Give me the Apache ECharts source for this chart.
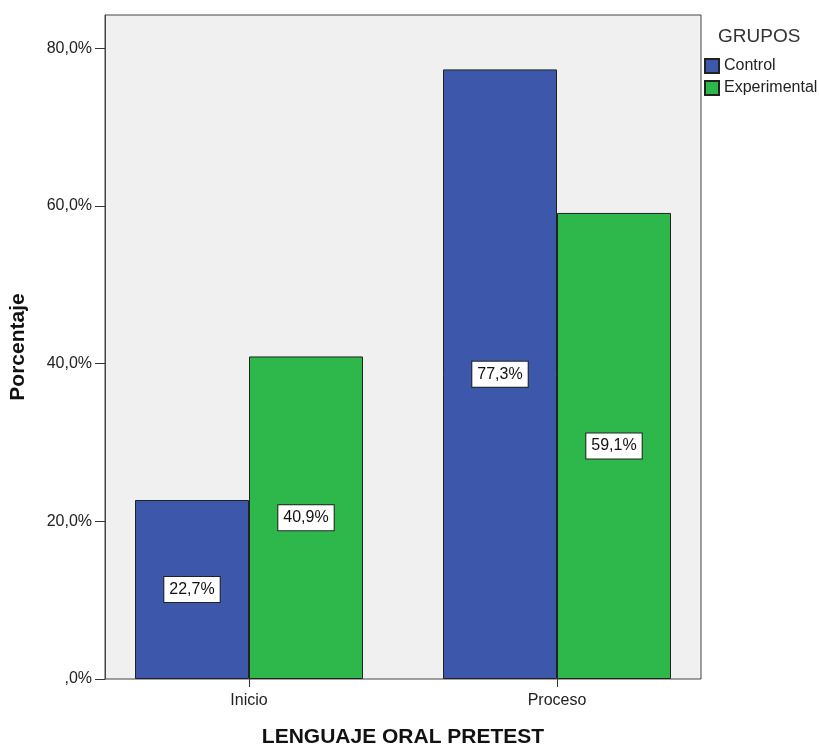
<!DOCTYPE html>
<html>
<head>
<meta charset="utf-8">
<script src="https://cdn.jsdelivr.net/npm/echarts@6/dist/echarts.min.js"></script>
<style>html,body{margin:0;padding:0;background:#fff}#c{width:819px;height:746px}</style>
</head>
<body>
<div id="c"></div>
<script>
var categories = ['Inicio', 'Proceso'];
var controlValues = [22.7, 77.3];
var experimentalValues = [40.9, 59.1];
var yTickValues = [0, 20, 40, 60, 80];
var seriesNames = ['Control', 'Experimental'];
var legendTitle = 'GRUPOS';
var xTitle = 'LENGUAJE ORAL PRETEST';
var yTitle = 'Porcentaje';

function pct(v) {
  if (v === 0) return ',0%';
  return v.toFixed(1).replace('.', ',') + '%';
}
var FONT = '"Liberation Sans", Arial, sans-serif';
var labelCfg = {
  show: true, position: 'inside', formatter: function (p) { return pct(p.value); },
  backgroundColor: '#ffffff', borderColor: '#222', borderWidth: 1,
  padding: [5, 5, 4, 5], fontSize: 16, color: '#111', fontFamily: FONT
};
var chart = echarts.init(document.getElementById('c'), null, { renderer: 'canvas' });
chart.setOption({
  animation: false,
  backgroundColor: '#ffffff',
  textStyle: { fontFamily: FONT },
  title: { text: legendTitle, left: 713, top: 22, textStyle: { fontSize: 19, fontWeight: 'normal', color: '#333', fontFamily: FONT } },
  legend: {
    orient: 'vertical', left: 704, top: 58, padding: 0, itemWidth: 14, itemHeight: 14, itemGap: 6,
    icon: 'rect', data: seriesNames,
    textStyle: { fontSize: 16, color: '#222', fontFamily: FONT, overflow: 'none' }
  },
  grid: [
    { left: 95, top: 15, width: 616, height: 664, show: false, outerBoundsMode: 'none', containLabel: false },
    { left: 105, top: 15, width: 596, height: 664, show: true, backgroundColor: '#f0f0f0', borderColor: '#444', borderWidth: 1, z: 0, outerBoundsMode: 'none', containLabel: false }
  ],
  xAxis: [
    {
      gridIndex: 0, type: 'category', data: categories,
      axisLine: { show: false },
      axisTick: { show: true, alignWithLabel: true, length: 8, lineStyle: { color: '#333' } },
      axisLabel: { fontSize: 16, color: '#222', margin: 14, fontFamily: FONT },
      name: xTitle, nameLocation: 'middle', nameGap: 48,
      nameTextStyle: { fontSize: 21, fontWeight: 'bold', color: '#111', fontFamily: FONT }
    },
    { gridIndex: 1, type: 'value', show: false }
  ],
  yAxis: [
    { gridIndex: 0, type: 'value', min: 0, max: 84.2, show: false },
    {
      gridIndex: 1, type: 'value', min: 0, max: 84.2,
      axisLine: { show: true, lineStyle: { color: '#444' } },
      axisTick: { show: true, length: 10, lineStyle: { color: '#333' }, customValues: yTickValues },
      axisLabel: { fontSize: 16, color: '#222', margin: 13, fontFamily: FONT, customValues: yTickValues, formatter: function (v) { return pct(v); } },
      splitLine: { show: false },
      name: yTitle, nameLocation: 'middle', nameGap: 76,
      nameTextStyle: { fontSize: 21, fontWeight: 'bold', color: '#111', fontFamily: FONT }
    }
  ],
  series: [
    {
      name: seriesNames[0], type: 'bar', xAxisIndex: 0, yAxisIndex: 0, data: controlValues,
      barWidth: 114, barGap: '0%', z: 5,
      itemStyle: { color: '#3d58aa', borderColor: '#222', borderWidth: 1 },
      label: labelCfg
    },
    {
      name: seriesNames[1], type: 'bar', xAxisIndex: 0, yAxisIndex: 0, data: experimentalValues,
      barWidth: 114, barGap: '0%', z: 5,
      itemStyle: { color: '#2eb84b', borderColor: '#222', borderWidth: 1 },
      label: labelCfg
    }
  ]
});
</script>
</body>
</html>
